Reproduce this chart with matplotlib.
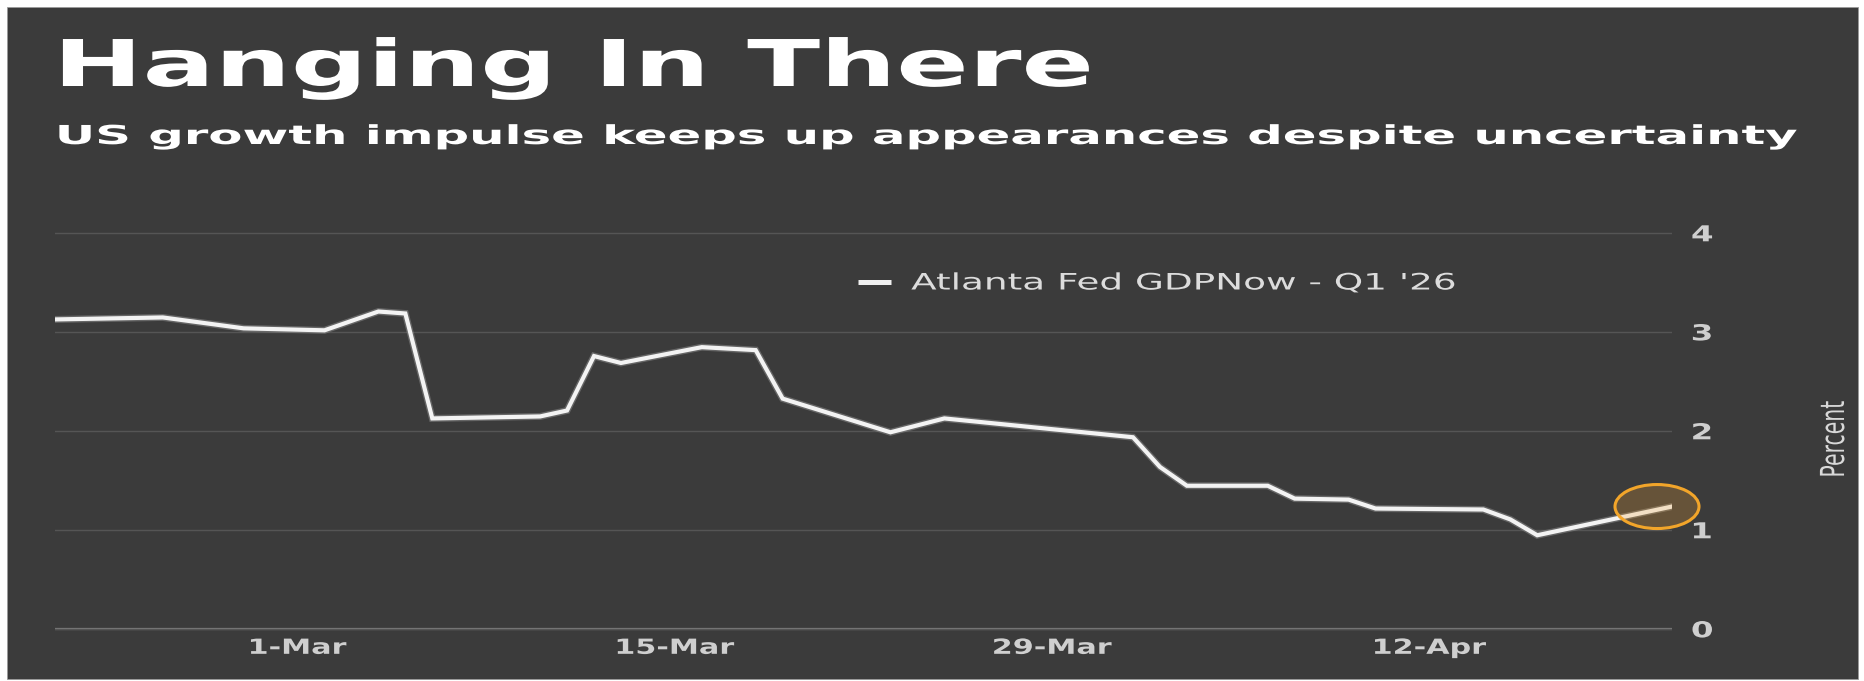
import matplotlib
matplotlib.use("Agg")
import matplotlib.pyplot as plt
import matplotlib.dates as mdates
from matplotlib.patheffects import AbstractPathEffect, Stroke, Normal
from matplotlib.transforms import Affine2D, ScaledTranslation
from matplotlib.patches import Rectangle, Ellipse
from matplotlib.lines import Line2D
import pandas as pd

# ---------------- data ----------------
dates = ['2026-02-20', '2026-02-24', '2026-02-27', '2026-03-02', '2026-03-04',
         '2026-03-05', '2026-03-06', '2026-03-10', '2026-03-11', '2026-03-12',
         '2026-03-13', '2026-03-16', '2026-03-18', '2026-03-19', '2026-03-23',
         '2026-03-25', '2026-04-01', '2026-04-02', '2026-04-03', '2026-04-06',
         '2026-04-07', '2026-04-09', '2026-04-10', '2026-04-14', '2026-04-15',
         '2026-04-16', '2026-04-21']
gdpnow = [3.13, 3.15, 3.04, 3.02, 3.21,
          3.19, 2.13, 2.15, 2.21, 2.76,
          2.69, 2.85, 2.82, 2.33, 1.99,
          2.13, 1.94, 1.64, 1.45, 1.45,
          1.32, 1.31, 1.22, 1.21, 1.11,
          0.95, 1.24]
xtick_dates = ['2026-03-01', '2026-03-15', '2026-03-29', '2026-04-12']
xtick_labels = ['1-Mar', '15-Mar', '29-Mar', '12-Apr']
yticks = [0, 1, 2, 3, 4]
series_label = "Atlanta Fed GDPNow - Q1 '26"
title = "Hanging In There"
subtitle = "US growth impulse keeps up appearances despite uncertainty"
ylabel = "Percent"


# ------------- horizontal stretch effect for text (source image is widened) -------------
class HStretch(AbstractPathEffect):
    def __init__(self, sx, anchor="left"):
        super().__init__((0.0, 0.0))
        self.sx = sx
        self.anchor = anchor

    def draw_path(self, renderer, gc, tpath, affine, rgbFace=None):
        bb = tpath.get_extents(affine)
        if self.anchor == "left":
            a = bb.x0
        elif self.anchor == "right":
            a = bb.x1
        else:
            a = 0.5 * (bb.x0 + bb.x1)
        t = affine + Affine2D().translate(-a, 0).scale(self.sx, 1.0).translate(a, 0)
        renderer.draw_path(gc, tpath, t, rgbFace)


W, H = 1865, 681
DPI = 100
SX = 1.62
fig = plt.figure(figsize=(W / DPI, H / DPI), dpi=DPI)
fig.patch.set_facecolor("white")

BG = "#3b3b3b"
fig.add_artist(Rectangle((7 / W, 2 / H), (1858 - 7) / W, (679 - 7) / H,
                         transform=fig.transFigure, facecolor=BG,
                         edgecolor="#9a9a9a", linewidth=0.6, zorder=-10))

# axes geometry (pixels from top): y=0 at 629.3, y=4 at 233.3
ppu = 99.0
y0px = 629.3
ylo, yhi = -0.1, 4.3
bottom_px = y0px - ylo * ppu
top_px = y0px - yhi * ppu
left_px, right_px = 55, 1672
ax = fig.add_axes([left_px / W, (H - bottom_px) / H,
                   (right_px - left_px) / W, (bottom_px - top_px) / H])
ax.set_facecolor("none")
for s in ax.spines.values():
    s.set_visible(False)

x = pd.to_datetime(dates)
line, = ax.plot(x, gdpnow, color="#f3f3f3", lw=3.0, solid_joinstyle="miter",
                zorder=3,
                path_effects=[Stroke(linewidth=5.0, foreground="#8a8a8a", alpha=0.55),
                              Normal()])

ax.set_xlim(x[0], x[-1])
ax.set_ylim(ylo, yhi)
ax.set_yticks(yticks)
ax.grid(axis="y", color="#555555", linewidth=1.0, zorder=0)
ax.axhline(0, color="#7c7c7c", linewidth=1.6, zorder=1)

ax.set_xticks(pd.to_datetime(xtick_dates))
ax.set_xticklabels(xtick_labels, fontweight="bold")
ax.tick_params(axis="x", length=0, pad=-1, labelsize=15, labelcolor="#cfcfcf")
ax.yaxis.tick_right()
ax.tick_params(axis="y", length=0, pad=14, labelsize=15.8, labelcolor="#cfcfcf")
for t in ax.get_yticklabels():
    t.set_fontweight("bold")

# highlight ellipse around last observation
xl = mdates.date2num(x[-1])
trans = fig.dpi_scale_trans + ScaledTranslation(xl, gdpnow[-1], ax.transData)
ax.add_patch(Ellipse((-15 / DPI, 0), 84 / DPI, 44 / DPI, transform=trans,
                     facecolor=(0.95, 0.64, 0.2, 0.24), edgecolor="#f2a52a",
                     linewidth=2.2, zorder=4, clip_on=False))

# legend
handle = Line2D([], [], color="#f0f0f0", lw=3.6, solid_capstyle="butt")
leg = ax.legend([handle], [series_label], loc="center left",
                bbox_to_anchor=(858 / W, 1 - 283 / H), bbox_transform=fig.transFigure,
                frameon=False, fontsize=16.3, handlelength=1.45, handletextpad=0.9,
                borderpad=0, borderaxespad=0, labelcolor="#dcdcdc")

# titles
t1 = fig.text(57 / W, 1 - 86 / H, title, fontsize=46.4, fontweight="bold",
              color="white", ha="left", va="baseline")
t2 = fig.text(57 / W, 1 - 144 / H, subtitle, fontsize=18.8, fontweight="bold",
              color="white", ha="left", va="baseline")
yl = fig.text(1834 / W, 1 - 439 / H, ylabel, rotation=90, ha="center", va="center",
              fontsize=14.7, color="#d8d8d8")

fig.canvas.draw()
r = fig.canvas.get_renderer()
sx1 = 1039 / t1.get_window_extent(r).width
sx2 = 1748 / t2.get_window_extent(r).width
t1.set_path_effects([HStretch(sx1, "left")])
t2.set_path_effects([HStretch(sx2, "left")])
yl.set_path_effects([HStretch(SX, "center")])
for t in leg.get_texts():
    t.set_path_effects([HStretch(1.65, "left")])
for t in ax.get_xticklabels():
    t.set_path_effects([HStretch(1.45, "center")])
for t in ax.get_yticklabels():
    t.set_path_effects([HStretch(1.48, "left")])

fig.savefig("out.png", dpi=DPI, facecolor=fig.get_facecolor())
